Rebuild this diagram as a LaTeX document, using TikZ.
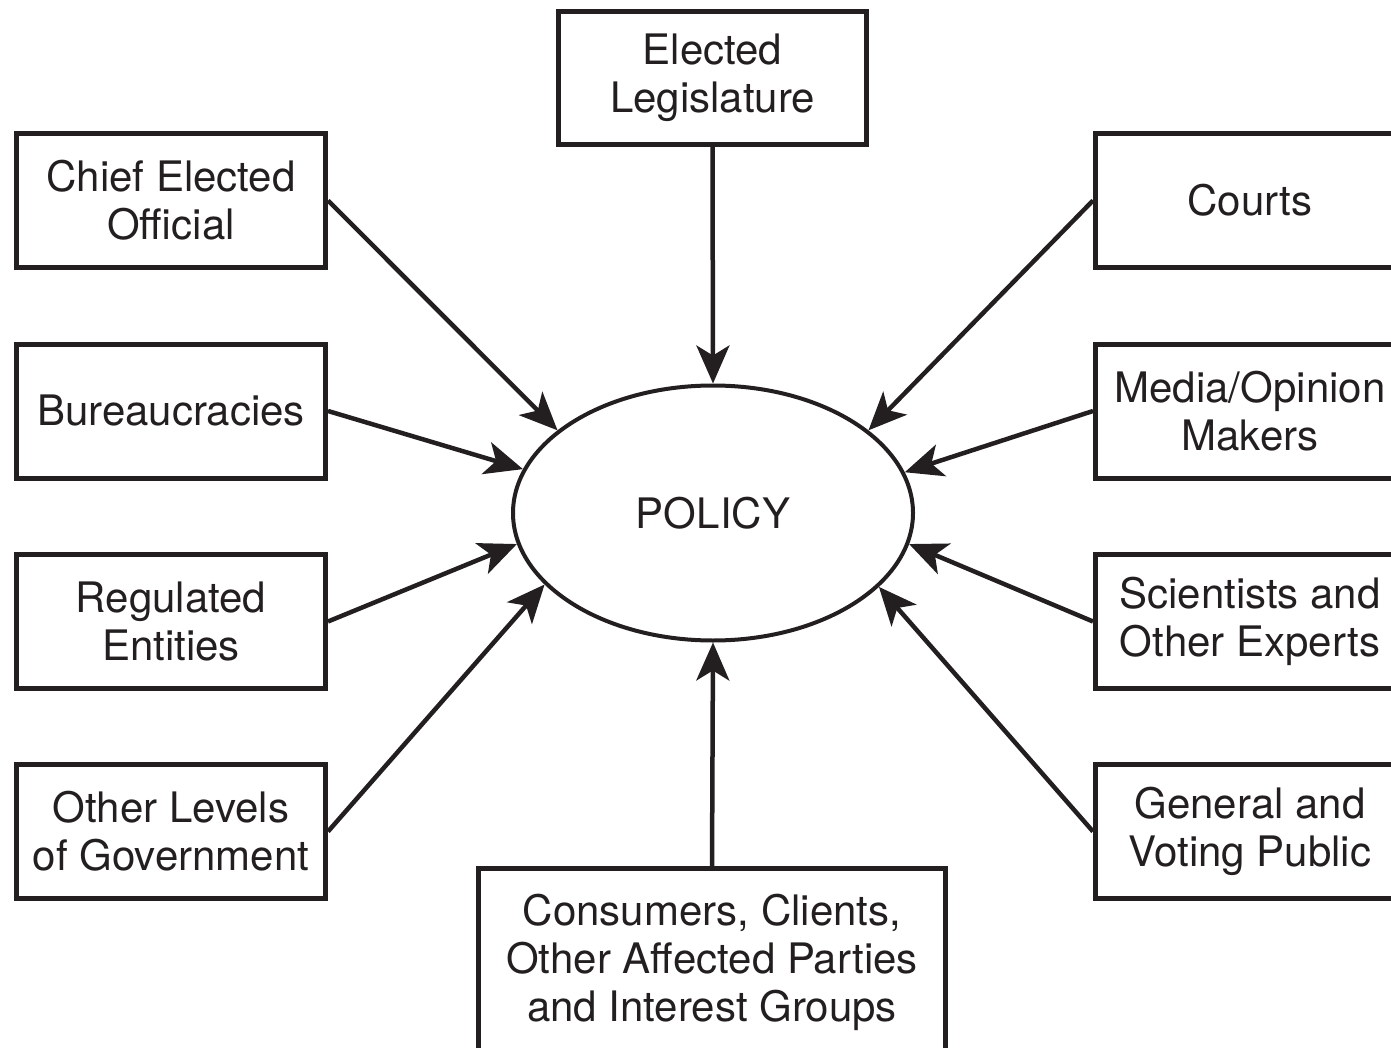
\documentclass[tikz,border=0pt]{standalone}
\usepackage{fontspec}
\setmainfont{TeX Gyre Heros}
\usetikzlibrary{arrows.meta,shapes.geometric}
\definecolor{ink}{RGB}{35,31,32}
\begin{document}
\begin{tikzpicture}[x=1pt,y=-1pt,
  box/.style={draw=ink,line width=5pt,rectangle,minimum width=309pt,minimum height=134pt,inner sep=0pt,align=center,text=ink,font=\fontsize{42}{48}\selectfont},
  arr/.style={draw=ink,line width=4.5pt,-{Stealth[length=38pt,width=33pt,inset=10pt]}}]
\useasboundingbox (0,0) rectangle (1391,1048);
\begin{scope}
\clip (0,0) rectangle (1391,1048);
\node[draw=ink,line width=4pt,ellipse,minimum width=400pt,minimum height=255pt,inner sep=0pt,text=ink,font=\fontsize{42}{48}\selectfont] (policy) at (713,513) {POLICY};
\node[box,minimum width=308pt,minimum height=133pt] (leg) at (712.5,78) {Elected\\Legislature};
\node[box] (chief) at (171,200.5) {Chief Elected\\Official};
\node[box] (bur) at (171,411) {Bureaucracies};
\node[box] (reg) at (171,621.5) {Regulated\\Entities};
\node[box] (oth) at (171,831.5) {Other Levels\\of Government};
\node[box] (courts) at (1250,200.5) {Courts};
\node[box] (media) at (1250,411) {Media/Opinion\\Makers};
\node[box] (sci) at (1250,621.5) {Scientists and\\Other Experts};
\node[box] (gen) at (1250,831.5) {General and\\Voting Public};
\node[box,minimum width=467pt,minimum height=187pt] (cons) at (712,962) {Consumers, Clients,\\Other Affected Parties\\and Interest Groups};
\draw[arr] (leg.south) -- (policy.north);
\draw[arr] (cons.north) -- (policy.south);
\draw[arr] (chief.east) -- (policy.152);
\draw[arr] (bur.east) -- (policy.167.6);
\draw[arr] (reg.east) -- (policy.189);
\draw[arr] (oth.east) -- (policy.203.4);
\draw[arr] (courts.west) -- (policy.28.4);
\draw[arr] (media.west) -- (policy.12.5);
\draw[arr] (sci.west) -- (policy.-9.1);
\draw[arr] (gen.west) -- (policy.-24.7);
\end{scope}
\end{tikzpicture}
\end{document}
